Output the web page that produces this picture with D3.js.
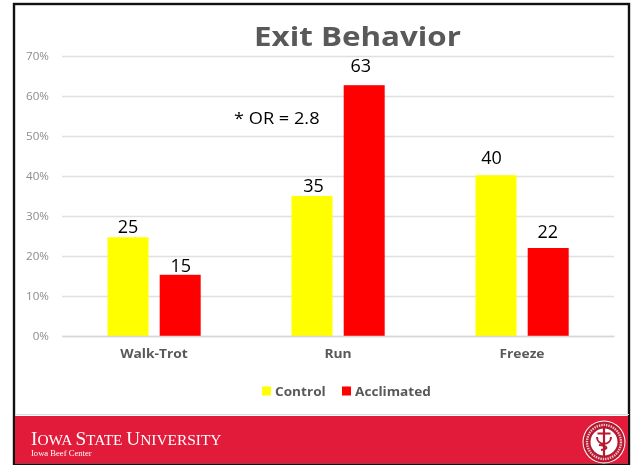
<!DOCTYPE html>
<html><head><meta charset="utf-8">
<script src="https://cdn.jsdelivr.net/npm/d3@7"></script>
<style>html,body{margin:0;padding:0;background:#fff}svg{display:block;filter:blur(0.3px)}</style></head>
<body><svg id="c" width="632" height="465"></svg>
<script>
const categories = ["Walk-Trot","Run","Freeze"];
const seriesNames = ["Control","Acclimated"];
const control = [24.7,35,40.2];
const acclimated = [15.3,62.7,22];
const controlLabels = ["25","35","40"];
const acclimatedLabels = ["15","63","22"];
const yTicks = [0,10,20,30,40,50,60,70];
const titleText = "Exit Behavior";
const noteText = "* OR = 2.8";
const footerTitle = [["I","OWA "],["S","TATE "],["U","NIVERSITY"]];
const footerSub = "Iowa Beef Center";
const colors = ["#ffff00","#ff0000"];

const svg = d3.select("#c");
const sans = "'Open Sans','Noto Sans',sans-serif";
const x = d3.scaleBand().domain(categories).range([62,614]);
const sub = d3.scaleOrdinal().domain(seriesNames).range([-46.5,5.7]);
const barW = 41;
const y = d3.scaleLinear().domain([0,70]).range([336,56]);
// the slide image is stretched sideways: widen text to the same proportion
function widen(sel,k){
  sel.each(function(){
    const w=this.getComputedTextLength();
    this.setAttribute("textLength",w*k);
    this.setAttribute("lengthAdjust","spacingAndGlyphs");
  });
  return sel;
}
// hand-placed data labels on the slide
const labelNudge = [[[0,-0.5],[1.5,0],[-4.5,-7]],[[0.5,1],[-3.5,-9],[-0.5,-6.5]]];

// slide frame
svg.append("rect").attr("x",14).attr("y",4).attr("width",615).attr("height",460.5)
  .attr("fill","#fff").attr("stroke","#111").attr("stroke-width",2.4);

// gridlines and y axis
const yAxis = d3.axisLeft(y).tickValues(yTicks).tickFormat(d=>d+"%").tickSize(-552).tickPadding(13);
const gy = svg.append("g").attr("transform","translate(62,0)").call(yAxis);
gy.select(".domain").remove();
gy.selectAll("line").attr("stroke","#e0e0e0").attr("stroke-width",1.3);
gy.selectAll("text").attr("font-family",sans).attr("font-size",11).attr("fill","#8c8c8c");
widen(gy.selectAll("text"),1.06);

// title
widen(svg.append("text").attr("x",357.5).attr("y",45.5).attr("text-anchor","middle")
  .attr("font-family",sans).attr("font-weight",700).attr("font-size",27).attr("fill","#595959").text(titleText),1.16);

// bars
const g = svg.append("g");
[control,acclimated].forEach((vals,s)=>{
  g.selectAll(".s"+s).data(vals).join("rect").attr("class","s"+s)
    .attr("x",(d,i)=>x(categories[i])+x.bandwidth()/2+sub(seriesNames[s]))
    .attr("y",d=>y(d)).attr("width",barW).attr("height",d=>y(0)-y(d))
    .attr("fill",colors[s]);
  g.selectAll(".l"+s).data(vals).join("text").attr("class","l"+s)
    .attr("x",(d,i)=>x(categories[i])+x.bandwidth()/2+sub(seriesNames[s])+barW/2+labelNudge[s][i][0])
    .attr("y",(d,i)=>y(d)-4+labelNudge[s][i][1]).attr("text-anchor","middle")
    .attr("font-family","'Open Sans',sans-serif").attr("font-size",18).attr("fill","#000")
    .text((d,i)=>(s?acclimatedLabels:controlLabels)[i]);
});

// category labels
const xAxis = d3.axisBottom(x).tickSize(0).tickPadding(13);
const gx = svg.append("g").attr("transform","translate(0,336)").call(xAxis);
gx.select(".domain").attr("stroke","#d8d8d8").attr("stroke-width",1.3);
gx.selectAll("text").attr("font-family",sans).attr("font-weight",700).attr("font-size",12).attr("fill","#595959");
widen(gx.selectAll("text"),1.15);

// note
widen(svg.append("text").attr("x",234).attr("y",124).attr("font-family","'Open Sans',sans-serif")
  .attr("font-size",17).attr("fill","#000").text(noteText),1.07);

// legend
const legendX = [262,342];
const leg = svg.selectAll(".leg").data(seriesNames).join("g").attr("class","leg").attr("transform",(d,i)=>`translate(${legendX[i]},391)`);
leg.append("rect").attr("y",-4.5).attr("width",9).attr("height",9).attr("fill",(d,i)=>colors[i]);
widen(leg.append("text").attr("x",13).attr("y",4.7).attr("font-family",sans).attr("font-weight",700)
  .attr("font-size",12.5).attr("fill","#595959").text(d=>d),1.09);

// footer band
svg.append("line").attr("x1",15).attr("x2",629).attr("y1",414.5).attr("y2",414.5).attr("stroke","#dcdcdc").attr("stroke-width",1);
svg.append("rect").attr("x",15).attr("y",416).attr("width",613).attr("height",47.5).attr("fill","#e31b3a");
const ft = svg.append("text").attr("x",31).attr("y",445).attr("font-family","'Liberation Serif',serif").attr("fill","#fff");
footerTitle.forEach(([a,b])=>{
  ft.append("tspan").attr("font-size",19.2).text(a);
  ft.append("tspan").attr("font-size",15.4).text(b);
});
svg.append("text").attr("x",31).attr("y",456).attr("font-family","'Liberation Serif',serif")
  .attr("font-size",8.6).attr("fill","#fff").text(footerSub);

// seal
const seal = svg.append("g").attr("transform","translate(604,442)");
seal.append("circle").attr("r",21.5).attr("fill","#fff");
seal.append("circle").attr("r",20.5).attr("fill","#b5182f");
seal.append("circle").attr("r",17).attr("fill","none").attr("stroke","#f3c4cb").attr("stroke-width",2.4).attr("stroke-dasharray","1.4 1");
seal.append("circle").attr("r",13.5).attr("fill","#fff");
seal.append("path").attr("d","M0,-16V15M-6.5,-8.5H6.5").attr("stroke","#b5182f").attr("stroke-width",2.2).attr("fill","none");
seal.append("path").attr("d","M-7,-5C-7,4 7,4 7,-5M-5,3C4,4 5,7 -3,8").attr("stroke","#b5182f").attr("stroke-width",2).attr("fill","none");
</script></body></html>
